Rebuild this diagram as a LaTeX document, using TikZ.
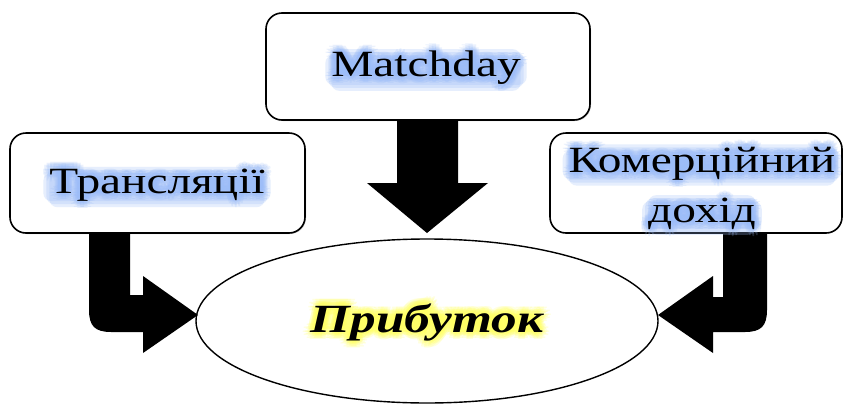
\documentclass[tikz,border=0pt]{standalone}
\usepackage{fontspec}
\setmainfont{Liberation Serif}
\newfontfamily\dfont[FakeStretch=1.28]{Liberation Serif}
\usetikzlibrary{calc,shapes.geometric}
\definecolor{glowblue}{HTML}{9CBDF8}
\definecolor{glowyellow}{HTML}{FFFF66}
\newcommand{\glowat}[5]{% #1 pos, #2 colour, #3 font, #4 text, #5 opacity
  \foreach \gr in {7,5,3}{\foreach \ga in {0,30,...,330}{%
    \node[text=#2,opacity=#5,font=#3,align=center] at ($(#1)+(\ga:\gr pt)$) {#4};}}}
\newcommand{\glowbox}[3]{% #1 phantom node, #2 colour, #3 opacity
  \foreach \gr in {6,3,0}{%
    \fill[#2,opacity=#3,rounded corners=8pt]
      ($(#1.south west)+(-\gr pt,\gr pt-6pt)$) rectangle ($(#1.north east)+(\gr pt,-\gr pt+2pt)$);}}
\tikzset{
  box/.style={draw=black,line width=1.6pt,rounded corners=16pt,fill=white,inner sep=0pt},
  shadowbox/.style={fill=black!45,rounded corners=16pt,opacity=0.5,inner sep=0pt,draw=none},
  blockarrow/.style={fill=black,draw=none},
  ph/.style={inner sep=0pt,outer sep=0pt},
  lbl/.style={align=center},
  bigfont/.style={font=\dfont\fontsize{37}{50}\selectfont},
  profitfont/.style={font=\dfont\bfseries\itshape\fontsize{40}{48}\selectfont}
}
\begin{document}
\begin{tikzpicture}[x=1pt,y=-1pt]
\useasboundingbox (0,0) rectangle (844,405);
% shadows
\node[shadowbox,minimum width=324pt,minimum height=107pt] at (429,67.5) {};
\node[shadowbox,minimum width=295pt,minimum height=100pt] at (158.5,184) {};
% boxes
\node[box,minimum width=324pt,minimum height=107pt] (mdbox) at (428,66.5) {};
\node[box,minimum width=295pt,minimum height=100pt] (trbox) at (157.5,183) {};
\node[box,minimum width=292pt,minimum height=100pt] (kmbox) at (696,183) {};
% ellipse
\node[ellipse,draw=black,line width=1.4pt,fill=white,minimum width=462pt,minimum height=164pt,inner sep=0pt] (pr) at (427,321) {};
% block arrows
\fill[blockarrow] (397,120) -- (397,183) -- (367,183) -- (427,233) -- (488,183) -- (458,183) -- (458,120) -- cycle;
\fill[blockarrow] (89,233) -- (89,310) .. controls (89,326) and (95,332) .. (111,332) -- (143,332) -- (143,353) -- (198,315) -- (143,276) -- (143,295) -- (130,295) -- (130,233) -- cycle;
\fill[blockarrow] (767,233) -- (767,310) .. controls (767,326) and (761,332) .. (745,332) -- (713,332) -- (713,353) -- (658,315) -- (713,276) -- (713,297) -- (723,297) -- (723,233) -- cycle;
% label positions
\coordinate (mdc) at (426,68);
\coordinate (trc) at (157,185);
\coordinate (kmc) at (702,188);
\coordinate (prc) at (427,322);
% soft glow blobs behind the blue labels (phantoms carry no glyphs)
\node[ph,bigfont] (mdph) at (mdc) {\phantom{Matchday}};
\node[ph,bigfont] (trph) at (trc) {\phantom{Трансляції}};
\node[ph,bigfont] (kmph1) at ($(kmc)+(0,-25)$) {\phantom{Комерційний}};
\node[ph,bigfont] (kmph2) at ($(kmc)+(0,25)$) {\phantom{дохід}};
\glowbox{mdph}{glowblue}{0.25}
\glowbox{trph}{glowblue}{0.25}
\glowbox{kmph1}{glowblue}{0.25}
\glowbox{kmph2}{glowblue}{0.25}
% labels with glow
\glowat{mdc}{glowblue}{\dfont\fontsize{37}{50}\selectfont}{Matchday}{0.2}
\node[lbl,bigfont] (md) at (mdc) {Matchday};
\glowat{trc}{glowblue}{\dfont\fontsize{37}{50}\selectfont}{Трансляції}{0.2}
\node[lbl,bigfont] (tr) at (trc) {Трансляції};
\glowat{kmc}{glowblue}{\dfont\fontsize{37}{50}\selectfont}{Комерційний\\дохід}{0.2}
\node[lbl,bigfont] (km) at (kmc) {Комерційний\\дохід};
\glowat{prc}{glowyellow}{\dfont\bfseries\itshape\fontsize{40}{48}\selectfont}{Прибуток}{0.2}
\node[lbl,profitfont] (prt) at (prc) {Прибуток};
\end{tikzpicture}
\end{document}
